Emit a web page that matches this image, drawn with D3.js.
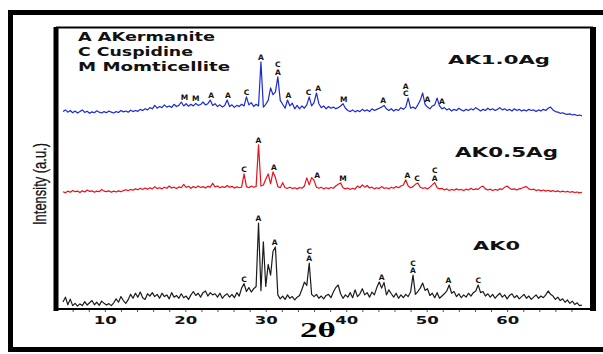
<!DOCTYPE html>
<html>
<head>
<meta charset="utf-8">
<script src="https://cdn.jsdelivr.net/npm/d3@7"></script>
<style>
  body { margin: 0; background: #fff; }
  svg { display: block; }
</style>
</head>
<body>
<svg id="chart" width="603" height="354"></svg>
<script>
// scans are sampled every 0.3 deg of 2-theta, from 4.8 deg
const thetaStart = 4.8;
const thetaStep = 0.3;

// intensities (a.u.), each relative to its own baseline
const ak0 = [
  2.5,4.2,1.5,3.5,1.2,2.0,1.0,1.8,1.2,2.6, 1.4,2.2,3.0,1.5,2.4,1.3,2.8,2.0,1.4,1.9,
  1.2,2.2,3.6,2.4,4.4,3.0,2.0,3.3,5.2,3.8, 5.6,4.2,6.0,4.0,3.4,5.4,4.6,5.8,4.4,5.2,
  3.8,5.6,4.4,5.0,3.6,5.8,4.2,4.8,3.8,5.4, 4.0,4.6,3.4,5.0,6.2,4.8,5.6,4.2,5.8,6.4,
  4.6,5.8,5.0,5.4,4.2,5.6,3.8,4.8,5.4,4.2, 5.2,4.0,5.8,4.6,7.4,9.0,6.2,7.6,6.0,7.2,
  8.0,30.5,6.5,23.8,8.0,15.8,12.0,20.5,22.0,5.0, 3.6,4.6,3.4,5.0,3.8,4.4,3.2,4.2,4.8,7.0,
  9.5,8.4,16.3,5.2,4.4,5.2,3.8,4.6,3.6,4.8, 5.2,4.0,6.0,7.6,8.5,5.4,3.8,5.0,4.2,5.8,
  4.0,6.8,4.4,5.4,7.2,5.0,5.8,4.2,6.0,5.0, 7.6,9.6,7.4,9.4,5.0,6.8,5.4,4.2,5.6,3.8,
  5.0,4.0,5.2,4.4,6.0,12.0,5.2,6.2,7.4,9.2, 6.6,7.2,4.8,5.6,4.0,5.8,3.8,4.6,5.4,6.4,
  8.5,5.6,6.2,4.4,5.4,4.0,5.0,4.2,5.6,4.6, 5.8,6.4,8.5,5.8,6.2,4.6,5.4,4.2,5.2,3.8,
  4.8,5.6,4.2,5.0,3.6,4.8,5.4,4.0,4.8,3.6, 4.4,5.2,3.8,4.6,3.4,4.2,5.0,3.8,4.6,4.0,
  5.0,6.4,5.2,4.6,3.4,4.2,3.0,3.6,2.4,3.2, 2.0,2.8,1.6,2.2,1.2,1.4
];

const ak05 = [
  3.6,3.2,3.8,3.4,4.0,3.6,3.8,3.3,3.9,3.5, 4.2,3.7,3.9,3.4,3.8,3.6,4.4,3.8,3.6,3.9,
  3.4,3.8,3.5,3.9,3.6,4.0,4.3,4.0,4.4,4.1, 4.6,4.3,4.8,4.4,4.9,4.5,5.0,4.6,5.4,4.7,
  5.0,4.6,5.2,4.8,5.6,4.9,5.2,4.7,5.3,5.0, 6.2,5.1,5.5,4.8,5.4,5.0,5.6,5.1,5.4,4.9,
  5.5,5.2,6.6,5.3,5.6,5.0,5.4,5.1,5.8,5.2, 5.5,4.9,5.3,5.0,5.2,9.9,5.4,5.0,5.6,5.2,
  5.4,20.2,5.6,6.0,8.0,9.9,6.4,10.6,8.6,5.4, 5.0,6.8,5.0,4.8,5.2,4.7,5.0,4.6,5.1,4.8,
  5.6,8.5,6.0,8.6,7.6,5.2,4.8,5.2,4.6,5.0, 4.7,5.1,4.8,5.6,6.2,6.7,5.0,4.6,4.9,4.4,
  4.8,4.5,5.6,5.0,6.0,5.2,5.8,4.9,5.2,4.6, 5.0,4.7,5.4,4.8,5.0,4.6,5.2,4.8,5.4,5.0,
  5.6,6.0,7.8,5.6,5.0,5.4,6.2,6.7,5.2,4.8, 5.0,4.6,5.2,6.0,6.8,5.0,4.6,4.8,4.2,4.6,
  4.0,4.4,4.1,4.6,4.2,4.4,4.0,4.5,4.2,4.8, 4.3,4.6,4.4,5.2,5.6,4.6,4.2,4.5,4.0,4.4,
  4.1,4.6,4.4,5.2,5.6,4.8,4.4,4.6,4.2,4.6, 4.8,5.2,5.4,4.6,4.3,4.5,4.0,4.3,3.9,4.2,
  3.8,4.1,3.7,4.0,3.6,3.9,3.5,3.8,3.5,3.7, 3.4,3.6,3.3,3.5,3.2,3.4
];

const ak10 = [
  4.0,4.6,3.8,4.4,3.6,4.2,3.5,4.0,4.6,3.7, 4.1,3.4,3.9,3.6,4.3,3.8,3.5,4.0,3.6,4.2,
  3.8,3.5,4.0,3.7,4.4,3.9,4.2,3.8,4.5,4.0, 4.4,4.1,4.8,4.4,5.0,4.6,5.4,5.0,6.2,5.2,
  5.8,5.4,6.4,5.6,6.0,5.5,6.6,5.8,6.2,7.4, 6.0,6.8,5.9,6.6,6.0,6.9,6.2,6.5,7.4,6.4,
  6.8,8.1,6.2,6.8,5.8,6.4,5.6,6.2,8.1,5.8, 6.4,5.5,6.2,5.8,6.6,6.0,9.2,6.4,7.2,5.8,
  6.6,6.0,21.6,5.6,6.6,8.0,12.4,10.0,11.0,16.3, 8.0,6.6,5.2,8.1,6.0,7.0,5.0,6.2,5.0,6.0,
  5.2,6.4,9.2,6.0,7.2,10.6,6.8,5.4,6.0,5.0, 5.8,5.2,5.6,5.0,5.4,6.0,6.8,5.2,4.4,4.0,
  4.6,3.9,4.4,4.0,4.8,4.2,4.6,4.0,5.0,4.4, 4.8,5.2,5.6,6.2,5.0,4.4,5.0,4.2,4.8,4.4,
  5.4,4.8,5.6,8.8,5.2,5.6,5.0,6.4,8.0,10.6, 6.6,5.6,5.0,6.0,6.4,8.8,6.0,5.0,5.4,4.6,
  5.0,4.2,4.8,4.4,5.2,4.6,4.2,4.8,4.4,5.0, 4.6,5.4,4.8,4.2,4.8,4.4,5.2,4.6,5.0,4.4,
  4.8,5.4,4.6,5.0,4.4,4.8,4.2,5.0,4.4,4.8, 4.2,4.6,4.2,4.8,4.4,4.6,4.0,4.6,4.2,4.8,
  4.4,5.2,5.6,4.6,4.0,3.8,3.4,3.6,3.2,3.0, 3.2,2.8,3.0,2.6,2.8,2.5
];

const sampleNames = ['AK0', 'AK0.5Ag', 'AK1.0Ag'];
const sampleOffsets = [0, 38, 66];
const sampleColors = ['#1c1c1c', '#e8101a', '#1b2ad4'];

// phase marks: [2-theta, letters stacked top to bottom]
const ak0Peaks = [[27.3,'C'],[29.1,'A'],[31.1,'A'],[35.4,'CA'],[44.4,'A'],[48.3,'CA'],[52.7,'A'],[56.4,'C']];
const ak05Peaks = [[27.3,'C'],[29.1,'A'],[31.0,'A'],[36.4,'A'],[39.6,'M'],[47.6,'A'],[48.8,'C'],[51.0,'CA']];
const ak10Peaks = [[19.9,'M'],[21.3,'M'],[23.2,'A'],[25.3,'A'],[27.6,'C'],[29.4,'A'],[31.5,'CA'],[32.8,'A'],
                   [35.3,'C'],[36.5,'A'],[39.7,'M'],[44.6,'A'],[47.4,'AC'],[50.1,'A'],[51.9,'A']];

const legendItems = ['A AKermanite', 'C Cuspidine', 'M Momticellite'];
const xTicks = [10, 20, 30, 40, 50, 60];

const series = [ak0, ak05, ak10];
const peakSets = [ak0Peaks, ak05Peaks, ak10Peaks];

const svg = d3.select('#chart');

// scales
let x = d3.scaleLinear().domain([4.3, 70.3]).range([59, 590]);
let y = d3.scaleLinear().domain([0, 100]).range([309, 27]);

// outer frame
svg.append('rect')
    .attr('x', 10.5).attr('y', 12.5)
    .attr('width', 600).attr('height', 337)
    .attr('fill', 'none')
    .attr('stroke', '#000')
    .attr('stroke-width', 5);

// inner plot frame
svg.append('line').attr('x1', 56).attr('x2', 593).attr('y1', 27.5).attr('y2', 27.5)
    .attr('stroke', '#000').attr('stroke-width', 2);
svg.append('line').attr('x1', 56).attr('x2', 56).attr('y1', 27).attr('y2', 311)
    .attr('stroke', '#000').attr('stroke-width', 5);
svg.append('line').attr('x1', 593).attr('x2', 593).attr('y1', 27).attr('y2', 311)
    .attr('stroke', '#000').attr('stroke-width', 6);

// x axis
let minorAxis = d3.axisBottom(x)
    .tickValues(d3.range(6, 70, 2))
    .tickSize(3)
    .tickFormat('');
svg.append('g')
    .attr('transform', `translate(0, ${y(0)})`)
    .call(minorAxis)
    .call(g => g.select('.domain').remove())
    .selectAll('line').attr('stroke', '#555');

let xAxis = d3.axisBottom(x).tickValues(xTicks).tickSize(0).tickPadding(6);
let gx = svg.append('g')
    .attr('transform', `translate(0, ${y(0)})`)
    .call(xAxis);
gx.select('.domain').attr('d', `M${x.range()[0] - 3},0H${x.range()[1]}`)
    .attr('stroke', '#000').attr('stroke-width', 2.2);
gx.selectAll('text')
    .attr('y', 15)
    .attr('dy', 0)
    .attr('fill', '#111')
    .style('font-family', '"DejaVu Sans", sans-serif')
    .style('font-weight', 'bold')
    .style('font-size', '11px')
    .attr('textLength', 23)
    .attr('lengthAdjust', 'spacingAndGlyphs');

// axis titles
svg.append('text')
    .attr('x', 318).attr('y', 337)
    .attr('text-anchor', 'middle')
    .style('font-family', '"Liberation Serif", "DejaVu Serif", serif')
    .style('font-weight', 'bold')
    .style('font-size', '20px')
    .attr('textLength', 36)
    .attr('lengthAdjust', 'spacingAndGlyphs')
    .text('2θ');

svg.append('text')
    .attr('transform', 'translate(46, 184) rotate(-90)')
    .attr('text-anchor', 'middle')
    .attr('fill', '#111')
    .attr('stroke', '#111')
    .attr('stroke-width', 0.3)
    .style('font-family', '"Liberation Sans Narrow", "Liberation Sans", sans-serif')
    .style('font-size', '18px')
    .attr('textLength', 82)
    .attr('lengthAdjust', 'spacingAndGlyphs')
    .text('Intensity (a.u.)');

// patterns
let line = d3.line()
    .x((d, i) => x(thetaStart + i * thetaStep))
    .y(d => y(d));

series.forEach((values, k) => {
    let off = sampleOffsets[k];
    svg.append('path')
        .datum(values.map(v => v + off))
        .attr('fill', 'none')
        .attr('stroke', sampleColors[k])
        .attr('stroke-width', 1.2)
        .attr('stroke-linejoin', 'round')
        .attr('d', line);

    // phase letters above the peaks
    peakSets[k].forEach(([theta, letters]) => {
        let near = values.filter((v, i) => Math.abs(thetaStart + i * thetaStep - theta) <= 0.6);
        let top = y(d3.max(near) + off) - 2;
        let chars = letters.split('');
        chars.forEach((c, j) => {
            svg.append('text')
                .attr('x', x(theta))
                .attr('y', top - (chars.length - 1 - j) * 7.5)
                .attr('text-anchor', 'middle')
                .attr('fill', '#111')
                .style('font-family', '"DejaVu Sans", sans-serif')
                .style('font-weight', 'bold')
                .style('font-size', '7.5px')
                .text(c);
        });
    });
});

// sample names
const namePos = [[473, 250, 47, 12.5], [455, 157, 103, 13.5], [448, 64, 102, 12.5]];
sampleNames.forEach((name, k) => {
    let [tx, ty, len, fs] = namePos[k];
    svg.append('text')
        .attr('x', tx).attr('y', ty)
        .attr('fill', '#111')
        .style('font-family', '"DejaVu Sans", sans-serif')
        .style('font-weight', 'bold')
        .style('font-size', fs + 'px')
        .attr('textLength', len)
        .attr('lengthAdjust', 'spacingAndGlyphs')
        .text(name);
});

// legend
const legendLen = [137, 115, 152];
legendItems.forEach((item, k) => {
    svg.append('text')
        .attr('x', 78).attr('y', 40.5 + k * 15)
        .attr('fill', '#111')
        .style('font-family', '"DejaVu Sans", sans-serif')
        .style('font-weight', 'bold')
        .style('font-size', '12px')
        .attr('textLength', legendLen[k])
        .attr('lengthAdjust', 'spacingAndGlyphs')
        .text(item);
});
</script>
</body>
</html>
